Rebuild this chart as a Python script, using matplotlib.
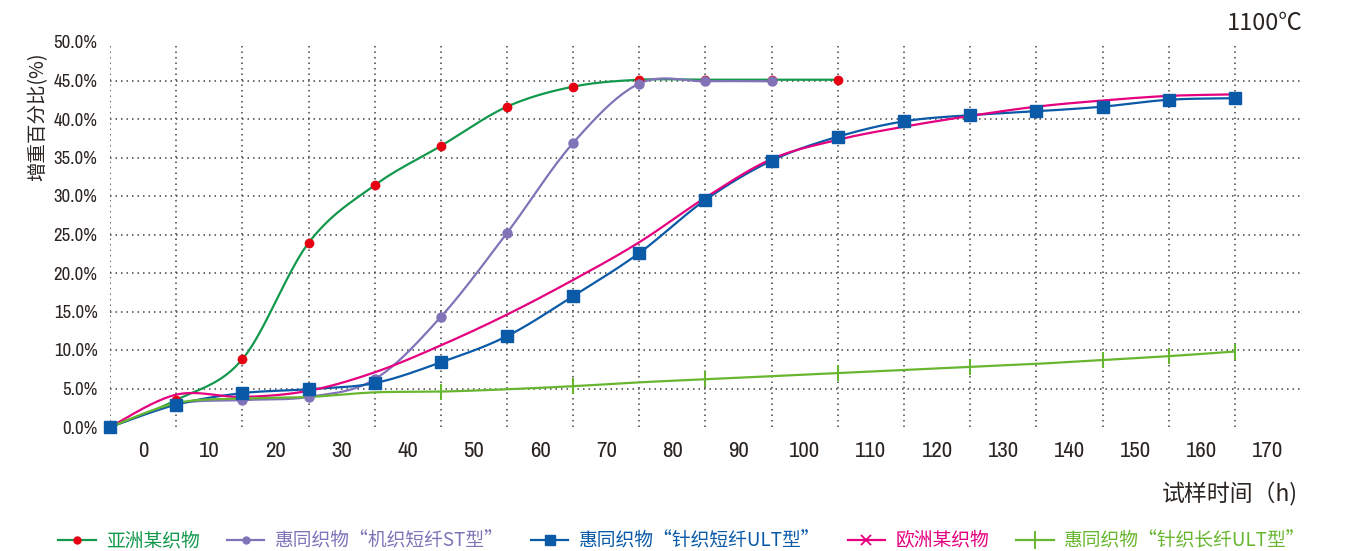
import numpy as np
import matplotlib.pyplot as plt
from matplotlib.lines import Line2D

# time labels (h) shown between gridlines; data sits on gridline index
hours = [0, 10, 20, 30, 40, 50, 60, 70, 80, 90, 100, 110, 120, 130, 140, 150, 160, 170]

asia = [0.0, 3.5, 8.8, 23.9, 31.4, 36.5, 41.6, 44.2, 45.1, 45.1, 45.1, 45.1]
st = [0.0, 3.0, 3.5, 3.9, 6.2, 14.3, 25.2, 36.9, 44.6, 44.9, 44.9]
ult_short = [0.0, 2.9, 4.4, 4.9, 5.7, 8.4, 11.8, 17.0, 22.6, 29.5, 34.6, 37.7,
             39.7, 40.5, 41.0, 41.6, 42.5, 42.7]
europe = [0.0, 4.2, 3.9, 4.7, 7.1, 10.6, 14.6, 19.1, 24.0, 29.8, 34.8, 37.3,
          39.0, 40.4, 41.6, 42.4, 43.0, 43.2]
ult_long = [0.0, 3.1, 3.7, 3.9, 4.5, 4.6, 4.9, 5.3, 5.8, 6.2, 6.6, 7.0,
            7.4, 7.8, 8.2, 8.7, 9.2, 9.8]
ult_long_marks = [5, 7, 9, 11, 13, 15, 16, 17]

labels = ['亚洲某织物', '惠同织物“机织短纤ST型”', '惠同织物“针织短纤ULT型”',
          '欧洲某织物', '惠同织物“针织长纤ULT型”']


def smooth(y, n=24):
    # Excel-like smoothed line (Catmull-Rom via cubic Bezier)
    p = np.column_stack([np.arange(len(y)), y]).astype(float)
    xs, ys = [], []
    for i in range(len(p) - 1):
        p0 = p[i - 1] if i > 0 else p[i]
        p1, p2 = p[i], p[i + 1]
        p3 = p[i + 2] if i + 2 < len(p) else p[i + 1]
        c1 = p1 + (p2 - p0) / 6
        c2 = p2 - (p3 - p1) / 6
        t = np.linspace(0, 1, n)[:, None]
        b = ((1 - t) ** 3) * p1 + 3 * ((1 - t) ** 2) * t * c1 + 3 * (1 - t) * t ** 2 * c2 + t ** 3 * p2
        xs.extend(b[:, 0]); ys.extend(b[:, 1])
    return np.array(xs), np.array(ys)


c_asia, c_red = '#12994c', '#e60012'
c_st = '#8073b8'
c_blue = '#0a5aa8'
c_pink = '#e4007f'
c_lg = '#68b62f'
txt = '#2b2522'
narrow = ['Archivo Narrow', 'Liberation Sans', 'DejaVu Sans']
cjk = ['Noto Sans CJK SC', 'DejaVu Sans']

fig = plt.figure(figsize=(13.45, 5.51), dpi=100)
ax = fig.add_axes([110 / 1345, 1 - 427 / 551, (1301 - 110) / 1345, (427 - 42) / 551])

# grid
for i in range(len(hours)):
    ax.axvline(i, color='#444444', lw=1.1, ls=(0, (1, 2.6)), zorder=0)
for v in range(5, 50, 5):
    ax.axhline(v, color='#444444', lw=1.1, ls=(0, (1, 2.6)), zorder=0)

lw = 1.6
x, y = smooth(asia)
ax.plot(x, y, color=c_asia, lw=lw, clip_on=False, zorder=3)
ax.plot(range(len(asia)), asia, 'o', color=c_red, ms=6, clip_on=False, zorder=4)

x, y = smooth(st)
ax.plot(x, y, color=c_st, lw=lw, clip_on=False, zorder=3)
ax.plot(range(len(st)), st, 'o', color=c_st, ms=6.5, clip_on=False, zorder=4)

x, y = smooth(ult_short)
ax.plot(x, y, color=c_blue, lw=lw, clip_on=False, zorder=3)
ax.plot(range(len(ult_short)), ult_short, 's', color=c_blue, ms=8.5, clip_on=False, zorder=4)

x, y = smooth(europe)
ax.plot(x, y, color=c_pink, lw=lw, clip_on=False, zorder=3)

x, y = smooth(ult_long)
ax.plot(x, y, color=c_lg, lw=lw, clip_on=False, zorder=3)
ax.plot(ult_long_marks, [ult_long[i] for i in ult_long_marks], '|', color=c_lg,
        ms=12, mew=1.5, clip_on=False, zorder=4)

ax.set_xlim(0, len(hours))
ax.set_ylim(0, 50)
ax.set_xticks(np.arange(len(hours)) + 0.5)
ax.set_xticklabels([str(h) for h in hours], family=narrow, fontsize=16.5, color=txt)
ax.set_yticks(np.arange(0, 51, 5))
ax.set_yticklabels(['%.1f%%' % v for v in np.arange(0, 51, 5)],
                   family=narrow, fontsize=13.5, color=txt)
ax.tick_params(axis='x', length=0, pad=10)
ax.tick_params(axis='y', length=0, pad=9)
for s in ax.spines.values():
    s.set_visible(False)

fig.text(1303 / 1345, 1 - 23 / 551, '1100℃', family=cjk, fontsize=17, color=txt,
         ha='right', va='center')
fig.text(38 / 1345, 1 - 117 / 551, '增重百分比(%)', family=cjk, fontsize=14, color=txt,
         rotation=90, ha='center', va='center')
fig.text(1298 / 1345, 1 - 494 / 551, '试样时间（h)', family=cjk, fontsize=16.5, color=txt,
         ha='right', va='center')

handles = [
    Line2D([], [], color=c_asia, lw=lw, marker='o', mfc=c_red, mec=c_red, ms=5),
    Line2D([], [], color=c_st, lw=lw, marker='o', ms=5),
    Line2D([], [], color=c_blue, lw=lw, marker='s', ms=7),
    Line2D([], [], color=c_pink, lw=lw, marker='x', ms=7, mew=1.3),
    Line2D([], [], color=c_lg, lw=lw, marker='|', ms=13, mew=1.4),
]
leg = fig.legend(handles, labels, loc='center', bbox_to_anchor=(0.507, 1 - 541 / 551),
                 ncol=5, frameon=False, handlelength=2.0, handletextpad=0.55,
                 columnspacing=1.45, borderpad=0.2, prop={'family': cjk, 'size': 13.5})
for t, c in zip(leg.get_texts(), [c_asia, c_st, c_blue, c_pink, c_lg]):
    t.set_color(c)

fig.savefig('out.png', dpi=100)
